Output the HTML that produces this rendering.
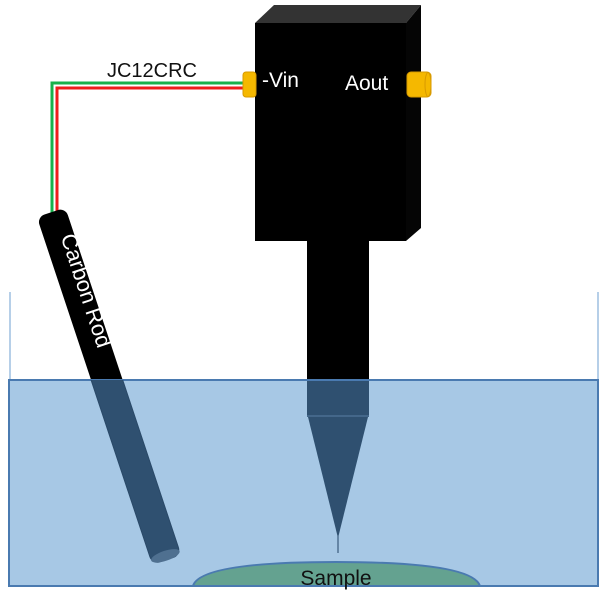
<!DOCTYPE html>
<html><head><meta charset="utf-8"><style>html,body{margin:0;padding:0;background:#fff}svg{display:block}</style></head>
<body>
<svg width="606" height="596" viewBox="0 0 606 596" xmlns="http://www.w3.org/2000/svg" font-family="Liberation Sans, sans-serif">
<defs>
<clipPath id="w"><rect x="9" y="380" width="590" height="207"/></clipPath>
</defs>
<line x1="10" y1="292" x2="10" y2="586" stroke="#9dbfe0" stroke-width="1.5"/>
<line x1="598" y1="292" x2="598" y2="586" stroke="#9dbfe0" stroke-width="1.5"/>
<polyline points="244,83 52,83 52,215" fill="none" stroke="#19b04b" stroke-width="3"/>
<polyline points="244,88 57,88 57,215" fill="none" stroke="#ee1c1c" stroke-width="3"/>
<text x="152" y="77" font-size="20" text-anchor="middle" fill="#111">JC12CRC</text>
<polygon points="255,23 274,5 421,5 406,23" fill="#333"/>
<polygon points="406,23 421,5 421,228 406,241" fill="#050505"/>
<rect x="255" y="23" width="151" height="218" fill="#000"/>
<rect x="307" y="241" width="62" height="140" fill="#000"/>
<rect x="243" y="72" width="13" height="25" rx="3" fill="#f5b800" stroke="#d89a00"/>
<rect x="407" y="72" width="24" height="25" rx="4" fill="#f5b800" stroke="#d89a00"/>
<ellipse cx="428" cy="84.5" rx="3" ry="12" fill="none" stroke="#d89a00"/>
<text x="262" y="87" font-size="21" fill="#fff">-Vin</text>
<text x="345" y="90" font-size="21" fill="#fff">Aout</text>
<g transform="translate(53,218) rotate(-18.4)">
<rect x="-15" y="-6" width="30" height="366" rx="8" fill="#000"/>
<text transform="rotate(90)" x="20" y="-7" font-size="22" fill="#fff" dominant-baseline="middle">Carbon Rod</text>
</g>
<rect x="9" y="380" width="589" height="206" fill="#a7c8e5" stroke="#4a7ab0" stroke-width="2"/>
<g clip-path="url(#w)">
<g transform="translate(53,218) rotate(-18.4)">
<rect x="-15" y="-6" width="30" height="366" rx="8" fill="#2f5070" stroke="#2a4968"/>
<ellipse cx="0" cy="356" rx="15" ry="5" fill="#4f7090"/>
</g>
</g>
<rect x="307" y="381" width="62" height="35" fill="#2f5070"/>
<line x1="307" y1="416" x2="369" y2="416" stroke="#44678a" stroke-width="2"/>
<polygon points="308,417 368,417 338,538" fill="#2f5070"/>
<line x1="338" y1="536" x2="338" y2="553" stroke="#4f7090" stroke-width="1.5"/>
<path d="M193,586 Q200,562 336,562 Q472,562 480,586 Z" fill="#64a290" stroke="#4a7ab0" stroke-width="2"/>
<text x="336" y="585" font-size="21" text-anchor="middle" fill="#111">Sample</text>
</svg>
</body></html>
